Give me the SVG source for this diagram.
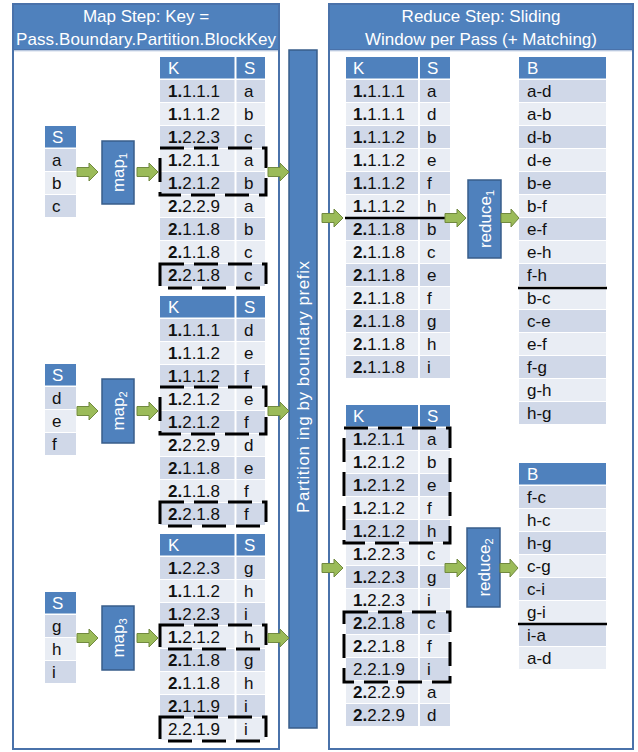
<svg xmlns="http://www.w3.org/2000/svg" width="638" height="752" viewBox="0 0 638 752">
<style>
.d{fill:#d0d8e8}.l{fill:#e9edf4}.h{fill:#4f81bd}
text{font-family:"Liberation Sans",Arial,sans-serif;font-size:17px;fill:#111}
.w{fill:#fff}.b{font-weight:bold}
.dash{fill:none;stroke:#000;stroke-width:3;stroke-dasharray:24 10}
.arr{fill:#9bbb59;stroke:#71893f;stroke-width:1}
.box{fill:#4f81bd;stroke:#385d8a;stroke-width:1.5}
.sep{stroke:#fff;stroke-width:2}
.frame{fill:#fff;stroke:#4a72aa;stroke-width:2}
.band{fill:#4f81bd;stroke:#4a72aa;stroke-width:2}
.solid{stroke:#000;stroke-width:2.5}
</style>
<defs>
<path id="ar" d="M0,-4.5H12V-9L21,0L12,9V4.5H0Z"/>
<path id="ars" d="M0,-4.5H10V-9L18,0L10,9V4.5H0Z"/>
</defs>

<g id="mapPanel">
<rect class="frame" x="13" y="4" width="266" height="745"/>
<rect class="band" x="13" y="4" width="266" height="46"/>
<line x1="14" y1="51" x2="278" y2="51" stroke="#dfe6f1" stroke-width="1.5"/>
<text class="w" x="146" y="22" text-anchor="middle">Map Step: Key =</text>
<text class="w" x="146" y="45" text-anchor="middle" textLength="260" lengthAdjust="spacing">Pass.Boundary.Partition.BlockKey</text>
</g>

<g id="reducePanel">
<rect class="frame" x="329" y="4" width="304" height="745"/>
<rect class="band" x="329" y="4" width="304" height="46"/>
<line x1="330" y1="51" x2="632" y2="51" stroke="#dfe6f1" stroke-width="1.5"/>
<text class="w" x="481" y="22" text-anchor="middle">Reduce Step: Sliding</text>
<text class="w" x="481" y="45" text-anchor="middle">Window per Pass (+ Matching)</text>
</g>

<g id="input1">
<rect class="h" x="45" y="126" width="31" height="21.5"/><text class="w" x="52" y="143">S</text>
<rect class="d" x="45" y="149" width="31" height="22"/><text x="52" y="166">a</text>
<rect class="l" x="45" y="172" width="31" height="22"/><text x="52" y="189">b</text>
<rect class="d" x="45" y="195" width="31" height="22"/><text x="52" y="212">c</text>
</g>
<g id="input2">
<rect class="h" x="45" y="364" width="31" height="21.5"/><text class="w" x="52" y="381">S</text>
<rect class="d" x="45" y="387" width="31" height="22"/><text x="52" y="404">d</text>
<rect class="l" x="45" y="410" width="31" height="22"/><text x="52" y="427">e</text>
<rect class="d" x="45" y="433" width="31" height="22"/><text x="52" y="450">f</text>
</g>
<g id="input3">
<rect class="h" x="45" y="592" width="31" height="21.5"/><text class="w" x="52" y="609">S</text>
<rect class="d" x="45" y="615" width="31" height="22"/><text x="52" y="632">g</text>
<rect class="l" x="45" y="638" width="31" height="22"/><text x="52" y="655">h</text>
<rect class="d" x="45" y="661" width="31" height="22"/><text x="52" y="678">i</text>
</g>

<g id="map1">
<rect class="box" x="102" y="141" width="32" height="63"/>
<text class="w" transform="translate(118,172.5) rotate(-90)" x="0" y="6" text-anchor="middle">map<tspan font-size="11" dy="3">1</tspan></text>
</g>
<g id="map2">
<rect class="box" x="102" y="379" width="32" height="64"/>
<text class="w" transform="translate(118,411) rotate(-90)" x="0" y="6" text-anchor="middle">map<tspan font-size="11" dy="3">2</tspan></text>
</g>
<g id="map3">
<rect class="box" x="102" y="606" width="32" height="64"/>
<text class="w" transform="translate(118,638) rotate(-90)" x="0" y="6" text-anchor="middle">map<tspan font-size="11" dy="3">3</tspan></text>
</g>

<g id="mapOut1">
<rect class="h" x="160" y="57" width="105" height="21.5"/>
<rect class="d" x="160" y="80" width="105" height="22"/>
<rect class="l" x="160" y="103" width="105" height="22"/>
<rect class="d" x="160" y="126" width="105" height="22"/>
<rect class="l" x="160" y="149" width="105" height="22"/>
<rect class="d" x="160" y="172" width="105" height="22"/>
<rect class="l" x="160" y="195" width="105" height="22"/>
<rect class="d" x="160" y="218" width="105" height="22"/>
<rect class="l" x="160" y="241" width="105" height="22"/>
<rect class="d" x="160" y="264" width="105" height="22"/>
<line class="sep" x1="235.5" y1="57" x2="235.5" y2="286"/>
<text class="w" x="168" y="74">K</text><text class="w" x="244" y="74">S</text>
<text x="168" y="97"><tspan class="b">1.</tspan>1.1.1</text><text x="244" y="97">a</text>
<text x="168" y="120"><tspan class="b">1.</tspan>1.1.2</text><text x="244" y="120">b</text>
<text x="168" y="143"><tspan class="b">1.</tspan>2.2.3</text><text x="244" y="143">c</text>
<text x="168" y="166"><tspan class="b">1.</tspan>2.1.1</text><text x="244" y="166">a</text>
<text x="168" y="189"><tspan class="b">1.</tspan>2.1.2</text><text x="244" y="189">b</text>
<text x="168" y="212"><tspan class="b">2.</tspan>2.2.9</text><text x="244" y="212">a</text>
<text x="168" y="235"><tspan class="b">2.</tspan>1.1.8</text><text x="244" y="235">b</text>
<text x="168" y="258"><tspan class="b">2.</tspan>1.1.8</text><text x="244" y="258">c</text>
<text x="168" y="281"><tspan class="b">2.</tspan>2.1.8</text><text x="244" y="281">c</text>
<rect class="dash" x="160" y="148" width="106" height="47"/>
<rect class="dash" x="160" y="264" width="106" height="24"/>
</g>

<g id="mapOut2">
<rect class="h" x="160" y="296" width="105" height="21.5"/>
<rect class="d" x="160" y="319" width="105" height="22"/>
<rect class="l" x="160" y="342" width="105" height="22"/>
<rect class="d" x="160" y="365" width="105" height="22"/>
<rect class="l" x="160" y="388" width="105" height="22"/>
<rect class="d" x="160" y="411" width="105" height="22"/>
<rect class="l" x="160" y="434" width="105" height="22"/>
<rect class="d" x="160" y="457" width="105" height="22"/>
<rect class="l" x="160" y="480" width="105" height="22"/>
<rect class="d" x="160" y="503" width="105" height="22"/>
<line class="sep" x1="235.5" y1="296" x2="235.5" y2="525"/>
<text class="w" x="168" y="313">K</text><text class="w" x="244" y="313">S</text>
<text x="168" y="336"><tspan class="b">1.</tspan>1.1.1</text><text x="244" y="336">d</text>
<text x="168" y="359"><tspan class="b">1.</tspan>1.1.2</text><text x="244" y="359">e</text>
<text x="168" y="382"><tspan class="b">1.</tspan>1.1.2</text><text x="244" y="382">f</text>
<text x="168" y="405"><tspan class="b">1.</tspan>2.1.2</text><text x="244" y="405">e</text>
<text x="168" y="428"><tspan class="b">1.</tspan>2.1.2</text><text x="244" y="428">f</text>
<text x="168" y="451"><tspan class="b">2.</tspan>2.2.9</text><text x="244" y="451">d</text>
<text x="168" y="474"><tspan class="b">2.</tspan>1.1.8</text><text x="244" y="474">e</text>
<text x="168" y="497"><tspan class="b">2.</tspan>1.1.8</text><text x="244" y="497">f</text>
<text x="168" y="520"><tspan class="b">2.</tspan>2.1.8</text><text x="244" y="520">f</text>
<rect class="dash" x="160" y="387" width="106" height="47"/>
<rect class="dash" x="160" y="502" width="106" height="24"/>
</g>

<g id="mapOut3">
<rect class="h" x="160" y="534" width="105" height="21.5"/>
<rect class="d" x="160" y="557" width="105" height="22"/>
<rect class="l" x="160" y="580" width="105" height="22"/>
<rect class="d" x="160" y="603" width="105" height="22"/>
<rect class="l" x="160" y="626" width="105" height="22"/>
<rect class="d" x="160" y="649" width="105" height="22"/>
<rect class="l" x="160" y="672" width="105" height="22"/>
<rect class="d" x="160" y="695" width="105" height="22"/>
<rect class="l" x="160" y="718" width="105" height="22"/>
<line class="sep" x1="235.5" y1="534" x2="235.5" y2="740"/>
<text class="w" x="168" y="551">K</text><text class="w" x="244" y="551">S</text>
<text x="168" y="574"><tspan class="b">1.</tspan>2.2.3</text><text x="244" y="574">g</text>
<text x="168" y="597"><tspan class="b">1.</tspan>1.1.2</text><text x="244" y="597">h</text>
<text x="168" y="620"><tspan class="b">1.</tspan>2.2.3</text><text x="244" y="620">i</text>
<text x="168" y="643"><tspan class="b">1.</tspan>2.1.2</text><text x="244" y="643">h</text>
<text x="168" y="666"><tspan class="b">2.</tspan>1.1.8</text><text x="244" y="666">g</text>
<text x="168" y="689"><tspan class="b">2.</tspan>1.1.8</text><text x="244" y="689">h</text>
<text x="168" y="712"><tspan class="b">2.</tspan>1.1.9</text><text x="244" y="712">i</text>
<text x="168" y="735">2.2.1.9</text><text x="244" y="735">i</text>
<rect class="dash" x="160" y="625" width="106" height="24"/>
<rect class="dash" x="160" y="717" width="106" height="24"/>
</g>

<g id="partition">
<rect class="box" x="289" y="50" width="28" height="678"/>
<text class="w" transform="translate(303,387) rotate(-90)" x="0" y="6" text-anchor="middle" textLength="252" lengthAdjust="spacing">Partition ing by boundary prefix</text>
</g>

<g id="reduceIn1">
<rect class="h" x="346" y="57" width="104" height="21.5"/>
<rect class="d" x="346" y="80" width="104" height="22"/>
<rect class="l" x="346" y="103" width="104" height="22"/>
<rect class="d" x="346" y="126" width="104" height="22"/>
<rect class="l" x="346" y="149" width="104" height="22"/>
<rect class="d" x="346" y="172" width="104" height="22"/>
<rect class="l" x="346" y="195" width="104" height="22"/>
<rect class="d" x="346" y="218" width="104" height="22"/>
<rect class="l" x="346" y="241" width="104" height="22"/>
<rect class="d" x="346" y="264" width="104" height="22"/>
<rect class="l" x="346" y="287" width="104" height="22"/>
<rect class="d" x="346" y="310" width="104" height="22"/>
<rect class="l" x="346" y="333" width="104" height="22"/>
<rect class="d" x="346" y="356" width="104" height="22"/>
<line class="sep" x1="419" y1="57" x2="419" y2="378"/>
<text class="w" x="353" y="74">K</text><text class="w" x="427" y="74">S</text>
<text x="353" y="97"><tspan class="b">1.</tspan>1.1.1</text><text x="427" y="97">a</text>
<text x="353" y="120"><tspan class="b">1.</tspan>1.1.1</text><text x="427" y="120">d</text>
<text x="353" y="143"><tspan class="b">1.</tspan>1.1.2</text><text x="427" y="143">b</text>
<text x="353" y="166"><tspan class="b">1.</tspan>1.1.2</text><text x="427" y="166">e</text>
<text x="353" y="189"><tspan class="b">1.</tspan>1.1.2</text><text x="427" y="189">f</text>
<text x="353" y="212"><tspan class="b">1.</tspan>1.1.2</text><text x="427" y="212">h</text>
<text x="353" y="235"><tspan class="b">2.</tspan>1.1.8</text><text x="427" y="235">b</text>
<text x="353" y="258"><tspan class="b">2.</tspan>1.1.8</text><text x="427" y="258">c</text>
<text x="353" y="281"><tspan class="b">2.</tspan>1.1.8</text><text x="427" y="281">e</text>
<text x="353" y="304"><tspan class="b">2.</tspan>1.1.8</text><text x="427" y="304">f</text>
<text x="353" y="327"><tspan class="b">2.</tspan>1.1.8</text><text x="427" y="327">g</text>
<text x="353" y="350"><tspan class="b">2.</tspan>1.1.8</text><text x="427" y="350">h</text>
<text x="353" y="373"><tspan class="b">2.</tspan>1.1.8</text><text x="427" y="373">i</text>
<line class="solid" x1="345" y1="218" x2="450" y2="218"/>
</g>

<g id="reduceIn2">
<rect class="h" x="346" y="405" width="104" height="21.5"/>
<rect class="d" x="346" y="428" width="104" height="22"/>
<rect class="l" x="346" y="451" width="104" height="22"/>
<rect class="d" x="346" y="474" width="104" height="22"/>
<rect class="l" x="346" y="497" width="104" height="22"/>
<rect class="d" x="346" y="520" width="104" height="22"/>
<rect class="l" x="346" y="543" width="104" height="22"/>
<rect class="d" x="346" y="566" width="104" height="22"/>
<rect class="l" x="346" y="589" width="104" height="22"/>
<rect class="d" x="346" y="612" width="104" height="22"/>
<rect class="l" x="346" y="635" width="104" height="22"/>
<rect class="d" x="346" y="658" width="104" height="22"/>
<rect class="l" x="346" y="681" width="104" height="22"/>
<rect class="d" x="346" y="704" width="104" height="22"/>
<line class="sep" x1="419" y1="405" x2="419" y2="726"/>
<text class="w" x="353" y="422">K</text><text class="w" x="427" y="422">S</text>
<text x="353" y="445"><tspan class="b">1.</tspan>2.1.1</text><text x="427" y="445">a</text>
<text x="353" y="468"><tspan class="b">1.</tspan>2.1.2</text><text x="427" y="468">b</text>
<text x="353" y="491"><tspan class="b">1.</tspan>2.1.2</text><text x="427" y="491">e</text>
<text x="353" y="514"><tspan class="b">1.</tspan>2.1.2</text><text x="427" y="514">f</text>
<text x="353" y="537"><tspan class="b">1.</tspan>2.1.2</text><text x="427" y="537">h</text>
<text x="353" y="560"><tspan class="b">1.</tspan>2.2.3</text><text x="427" y="560">c</text>
<text x="353" y="583"><tspan class="b">1.</tspan>2.2.3</text><text x="427" y="583">g</text>
<text x="353" y="606"><tspan class="b">1.</tspan>2.2.3</text><text x="427" y="606">i</text>
<text x="353" y="629"><tspan class="b">2.</tspan>2.1.8</text><text x="427" y="629">c</text>
<text x="353" y="652"><tspan class="b">2.</tspan>2.1.8</text><text x="427" y="652">f</text>
<text x="353" y="675">2.2.1.9</text><text x="427" y="675">i</text>
<text x="353" y="698"><tspan class="b">2.</tspan>2.2.9</text><text x="427" y="698">a</text>
<text x="353" y="721"><tspan class="b">2.</tspan>2.2.9</text><text x="427" y="721">d</text>
<rect class="dash" x="344" y="428" width="106" height="115"/>
<rect class="dash" x="344" y="612" width="106" height="70"/>
</g>

<g id="reduce1">
<rect class="box" x="468" y="180" width="33" height="78"/>
<text class="w" transform="translate(484.5,219) rotate(-90)" x="0" y="6" text-anchor="middle">reduce<tspan font-size="11" dy="3">1</tspan></text>
</g>
<g id="reduce2">
<rect class="box" x="467" y="528" width="33" height="79"/>
<text class="w" transform="translate(483.5,567.5) rotate(-90)" x="0" y="6" text-anchor="middle">reduce<tspan font-size="11" dy="3">2</tspan></text>
</g>

<g id="output1">
<rect class="h" x="519" y="57" width="87" height="21.5"/>
<rect class="d" x="519" y="80" width="87" height="22"/>
<rect class="l" x="519" y="103" width="87" height="22"/>
<rect class="d" x="519" y="126" width="87" height="22"/>
<rect class="l" x="519" y="149" width="87" height="22"/>
<rect class="d" x="519" y="172" width="87" height="22"/>
<rect class="l" x="519" y="195" width="87" height="22"/>
<rect class="d" x="519" y="218" width="87" height="22"/>
<rect class="l" x="519" y="241" width="87" height="22"/>
<rect class="d" x="519" y="264" width="87" height="22"/>
<rect class="l" x="519" y="287" width="87" height="22"/>
<rect class="d" x="519" y="310" width="87" height="22"/>
<rect class="l" x="519" y="333" width="87" height="22"/>
<rect class="d" x="519" y="356" width="87" height="22"/>
<rect class="l" x="519" y="379" width="87" height="22"/>
<rect class="d" x="519" y="402" width="87" height="22"/>
<text class="w" x="527" y="74">B</text>
<text x="527" y="97">a-d</text>
<text x="527" y="120">a-b</text>
<text x="527" y="143">d-b</text>
<text x="527" y="166">d-e</text>
<text x="527" y="189">b-e</text>
<text x="527" y="212">b-f</text>
<text x="527" y="235">e-f</text>
<text x="527" y="258">e-h</text>
<text x="527" y="281">f-h</text>
<text x="527" y="304">b-c</text>
<text x="527" y="327">c-e</text>
<text x="527" y="350">e-f</text>
<text x="527" y="373">f-g</text>
<text x="527" y="396">g-h</text>
<text x="527" y="419">h-g</text>
<line class="solid" x1="518" y1="288" x2="607" y2="288"/>
</g>

<g id="output2">
<rect class="h" x="519" y="463" width="87" height="21.5"/>
<rect class="d" x="519" y="486" width="87" height="22"/>
<rect class="l" x="519" y="509" width="87" height="22"/>
<rect class="d" x="519" y="532" width="87" height="22"/>
<rect class="l" x="519" y="555" width="87" height="22"/>
<rect class="d" x="519" y="578" width="87" height="22"/>
<rect class="l" x="519" y="601" width="87" height="22"/>
<rect class="d" x="519" y="624" width="87" height="22"/>
<rect class="l" x="519" y="647" width="87" height="22"/>
<text class="w" x="527" y="480">B</text>
<text x="527" y="503">f-c</text>
<text x="527" y="526">h-c</text>
<text x="527" y="549">h-g</text>
<text x="527" y="572">c-g</text>
<text x="527" y="595">c-i</text>
<text x="527" y="618">g-i</text>
<text x="527" y="641">i-a</text>
<text x="527" y="664">a-d</text>
<line class="solid" x1="518" y1="624" x2="607" y2="624"/>
</g>

<g id="connectors" class="arr">
<use href="#ar" x="77" y="172"/>
<use href="#ar" x="137" y="172"/>
<use href="#ar" x="268" y="172"/>
<use href="#ar" x="77" y="411"/>
<use href="#ar" x="137" y="411"/>
<use href="#ar" x="268" y="411"/>
<use href="#ar" x="77" y="638"/>
<use href="#ar" x="137" y="638"/>
<use href="#ar" x="268" y="638"/>
<use href="#ar" x="322" y="218"/>
<use href="#ar" x="445" y="218"/>
<use href="#ars" x="501" y="218"/>
<use href="#ar" x="322" y="568"/>
<use href="#ar" x="445" y="568"/>
<use href="#ars" x="500" y="568"/>
</g>
</svg>
